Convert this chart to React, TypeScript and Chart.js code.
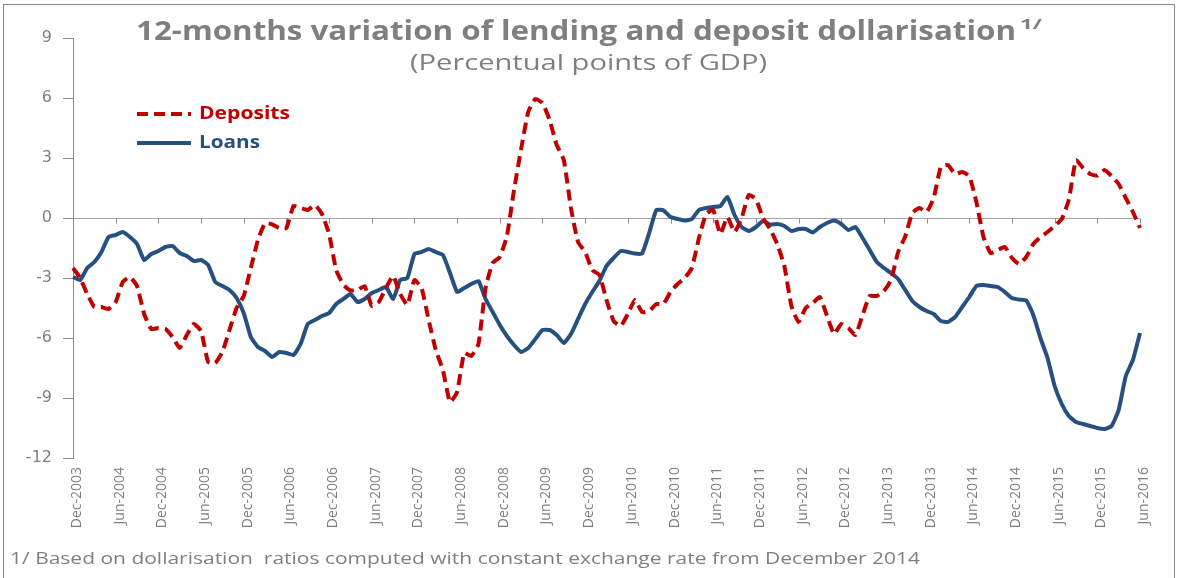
import React, { useEffect, useRef } from "react";
import { Chart, registerables } from "chart.js";

Chart.register(...registerables);

// ---------------- DATA ----------------
const MONTH_NAMES = ["Jan", "Feb", "Mar", "Apr", "May", "Jun", "Jul", "Aug", "Sep", "Oct", "Nov", "Dec"];

// 12-month variation of deposit dollarisation (percentual points of GDP), monthly Dec-2003 .. Jun-2016
const deposits: number[] = [
  -2.5, -3.0, -3.8, -4.45, -4.45, -4.55, -4.2, -3.2, -2.95, -3.4,
  -4.8, -5.55, -5.5, -5.55, -5.95, -6.5, -5.85, -5.3, -5.65, -7.2,
  -7.25, -6.7, -5.6, -4.5, -3.9, -2.5, -1.1, -0.25, -0.32, -0.5,
  -0.5, 0.6, 0.5, 0.4, 0.65, 0.2, -0.8, -2.6, -3.33, -3.62,
  -3.6, -3.4, -4.4, -4.2, -3.5, -2.9, -3.8, -4.35, -3.1, -3.5,
  -5.1, -6.6, -7.6, -9.2, -8.7, -6.75, -6.9, -6.3, -3.5, -2.25,
  -1.95, -0.9, 1.4, 3.45, 5.3, 5.95, 5.75, 4.9, 3.65, 2.9,
  0.5, -1.2, -1.7, -2.6, -2.85, -4.1, -5.15, -5.4, -4.8, -4.1,
  -4.7, -4.65, -4.3, -4.3, -3.7, -3.3, -3.0, -2.5, -1.0, 0.2,
  0.4, -0.8, 0.05, -0.7, 0.0, 1.15, 0.95, 0.0, -0.55, -1.3,
  -2.4, -4.4, -5.2, -4.5, -4.25, -3.95, -4.9, -5.8, -5.3, -5.5,
  -5.85, -4.85, -3.9, -3.9, -3.65, -3.1, -1.7, -0.92, 0.25, 0.5,
  0.3, 1.0, 2.55, 2.65, 2.2, 2.3, 2.1, 0.8, -0.95, -1.75,
  -1.6, -1.45, -2.0, -2.3, -1.95, -1.3, -0.95, -0.7, -0.4, -0.05,
  0.92, 2.9, 2.5, 2.2, 2.12, 2.4, 2.1, 1.7, 1.0, 0.3,
  -0.5,
];

// 12-month variation of lending dollarisation
const loans: number[] = [
  -2.95, -3.1, -2.5, -2.2, -1.7, -0.95, -0.85, -0.7, -0.95, -1.3,
  -2.1, -1.8, -1.65, -1.45, -1.4, -1.75, -1.9, -2.15, -2.1, -2.35,
  -3.2, -3.4, -3.6, -4.0, -4.75, -5.95, -6.45, -6.65, -6.95, -6.7,
  -6.75, -6.85, -6.3, -5.3, -5.1, -4.9, -4.75, -4.3, -4.05, -3.8,
  -4.2, -4.05, -3.75, -3.6, -3.45, -4.05, -3.1, -3.0, -1.8, -1.7,
  -1.55, -1.7, -1.85, -2.75, -3.7, -3.5, -3.3, -3.15, -4.05, -4.7,
  -5.35, -5.9, -6.35, -6.7, -6.5, -6.05, -5.6, -5.6, -5.85, -6.25,
  -5.8, -5.05, -4.3, -3.7, -3.15, -2.4, -2.0, -1.65, -1.7, -1.78,
  -1.78, -0.75, 0.4, 0.38, 0.05, -0.05, -0.13, -0.05, 0.4, 0.5,
  0.55, 0.6, 1.05, 0.15, -0.45, -0.65, -0.45, -0.15, -0.33, -0.3,
  -0.4, -0.65, -0.55, -0.55, -0.72, -0.45, -0.25, -0.12, -0.3, -0.6,
  -0.45, -1.0, -1.6, -2.2, -2.5, -2.75, -3.05, -3.6, -4.15, -4.45,
  -4.65, -4.8, -5.15, -5.2, -4.95, -4.45, -3.95, -3.4, -3.35, -3.4,
  -3.45, -3.7, -4.0, -4.08, -4.12, -4.85, -6.0, -7.0, -8.4, -9.3,
  -9.9, -10.2, -10.3, -10.4, -10.5, -10.55, -10.4, -9.6, -7.9, -7.1,
  -5.75,
];

// monthly categories starting December 2003
const categories: string[] = deposits.map((_, i) => {
  const k = 11 + i;
  return `${MONTH_NAMES[k % 12]}-${2003 + Math.floor(k / 12)}`;
});

const tickLabels: string[] = [
  "Dec-2003", "Jun-2004", "Dec-2004", "Jun-2005", "Dec-2005", "Jun-2006", "Dec-2006",
  "Jun-2007", "Dec-2007", "Jun-2008", "Dec-2008", "Jun-2009", "Dec-2009", "Jun-2010",
  "Dec-2010", "Jun-2011", "Dec-2011", "Jun-2012", "Dec-2012", "Jun-2013", "Dec-2013",
  "Jun-2014", "Dec-2014", "Jun-2015", "Dec-2015", "Jun-2016",
];

const yTicks: number[] = [-12, -9, -6, -3, 0, 3, 6, 9];

const TITLE = "12-months variation of lending and deposit dollarisation";
const TITLE_SUP = "1/";
const SUBTITLE = "(Percentual points of GDP)";
const FOOTNOTE = "1/ Based on dollarisation  ratios computed with constant exchange rate from December 2014";

// ---------------- STYLE ----------------
const FONT = '"Open Sans", "DejaVu Sans", sans-serif';
const TICK_FONT = '"DejaVu Sans", "Open Sans", sans-serif';
const RED = "#c00000";
const BLUE = "#26507f";
const GRAY_TEXT = "#7f7f7f";
const AXIS_GRAY = "#8c8c8c";

// draw text left-aligned at x, stretched horizontally to a given width (the source chart is wide-set)
function wideText(ctx: CanvasRenderingContext2D, text: string, x: number, y: number, width: number) {
  const w = ctx.measureText(text).width;
  ctx.save();
  ctx.translate(x, y);
  ctx.scale(width / w, 1);
  ctx.textAlign = "left";
  ctx.fillText(text, 0, 0);
  ctx.restore();
}

const decorPlugin = {
  id: "decor",
  beforeDatasetsDraw(chart: any) {
    const { ctx, scales } = chart;
    const x = scales.x;
    const y = scales.y;
    const y0 = Math.round(y.getPixelForValue(0)) + 0.5;
    ctx.save();
    ctx.strokeStyle = AXIS_GRAY;
    ctx.lineWidth = 1;
    categories.forEach((c, i) => {
      if (i > 0 && tickLabels.includes(c)) {
        const px = Math.round(x.getPixelForValue(i)) + 0.5;
        ctx.beginPath();
        ctx.moveTo(px, y0);
        ctx.lineTo(px, y0 + 5);
        ctx.stroke();
      }
    });
    ctx.restore();
  },
  afterDraw(chart: any) {
    const { ctx } = chart;
    ctx.save();
    // frame
    ctx.strokeStyle = "#8a8a8a";
    ctx.lineWidth = 1;
    ctx.strokeRect(3.5, 4.5, 1171, 600);

    // title with superscript
    ctx.fillStyle = GRAY_TEXT;
    ctx.textBaseline = "middle";
    ctx.font = `bold 26px ${FONT}`;
    wideText(ctx, TITLE, 136, 33, 880);
    ctx.font = `bold 15px ${FONT}`;
    wideText(ctx, TITLE_SUP, 1020, 25, 22);

    // subtitle
    ctx.font = `22px ${FONT}`;
    wideText(ctx, SUBTITLE, 410, 64, 357);

    // legend
    const ds = chart.data.datasets;
    const rows = [
      { ds: ds[0], y: 114, w: 91 },
      { ds: ds[1], y: 143, w: 61 },
    ];
    rows.forEach((r) => {
      ctx.strokeStyle = r.ds.borderColor;
      ctx.lineWidth = r.ds.borderWidth;
      ctx.setLineDash(r.ds.borderDash || []);
      ctx.beginPath();
      ctx.moveTo(137, r.y);
      ctx.lineTo(191, r.y);
      ctx.stroke();
      ctx.setLineDash([]);
      ctx.fillStyle = r.ds.borderColor;
      ctx.font = `bold 17px ${FONT}`;
      wideText(ctx, r.ds.label, 199, r.y, r.w);
    });

    // footnote
    ctx.fillStyle = GRAY_TEXT;
    ctx.font = `17px ${FONT}`;
    wideText(ctx, FOOTNOTE, 10, 559, 910);
    ctx.restore();
  },
};

export default function App() {
  const ref = useRef<HTMLCanvasElement | null>(null);

  useEffect(() => {
    if (!ref.current) return;
    const chart = new Chart(ref.current, {
      type: "line",
      data: {
        labels: categories,
        datasets: [
          {
            label: "Deposits",
            data: deposits,
            borderColor: RED,
            backgroundColor: RED,
            borderWidth: 4,
            borderDash: [11, 6],
            pointRadius: 0,
            tension: 0.15,
            fill: false,
          },
          {
            label: "Loans",
            data: loans,
            borderColor: BLUE,
            backgroundColor: BLUE,
            borderWidth: 4,
            pointRadius: 0,
            tension: 0.15,
            fill: false,
          },
        ],
      },
      options: {
        animation: false,
        responsive: false,
        maintainAspectRatio: false,
        layout: { padding: { left: 0, right: 40, top: 38, bottom: 0 } },
        plugins: {
          legend: { display: false },
          title: { display: false },
          tooltip: { enabled: false },
        },
        scales: {
          x: {
            type: "category",
            offset: false,
            grid: { display: false, drawTicks: false },
            border: { display: false },
            ticks: {
              autoSkip: false,
              minRotation: 90,
              maxRotation: 90,
              padding: 9,
              labelOffset: 4,
              color: GRAY_TEXT,
              font: { family: FONT, size: 14 },
              callback: (_v: any, i: number) =>
                tickLabels.includes(categories[i]) ? categories[i] : null,
            },
            afterFit: (s: any) => {
              s.height = 120;
            },
          },
          y: {
            min: yTicks[0],
            max: yTicks[yTicks.length - 1],
            afterBuildTicks: (s: any) => {
              s.ticks = yTicks.map((v) => ({ value: v }));
            },
            ticks: {
              color: GRAY_TEXT,
              font: { family: TICK_FONT, size: 16 },
              padding: 11,
            },
            grid: {
              color: (c: any) => (c.tick && c.tick.value === 0 ? "#a6a6a6" : "rgba(0,0,0,0)"),
              tickColor: AXIS_GRAY,
              tickLength: 10,
              lineWidth: 1,
            },
            border: { display: true, color: AXIS_GRAY, width: 1 },
            afterFit: (s: any) => {
              s.width = 73;
            },
          },
        },
      },
      plugins: [decorPlugin],
    } as any);
    return () => chart.destroy();
  }, []);

  return (
    <div style={{ position: "absolute", left: 0, top: 0, width: 1180, height: 578, background: "#fff" }}>
      <canvas ref={ref} width={1180} height={578} style={{ width: 1180, height: 578, display: "block" }} />
    </div>
  );
}
